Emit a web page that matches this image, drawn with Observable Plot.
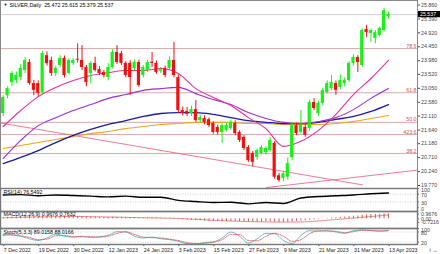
<!DOCTYPE html>
<html><head><meta charset="utf-8">
<script src="https://cdn.jsdelivr.net/npm/d3@7"></script>
<script src="https://cdn.jsdelivr.net/npm/@observablehq/plot@0.6"></script>
<style>
html,body{margin:0;padding:0;background:#fff;}
#c{width:440px;line-height:0;}
#c svg{display:block;overflow:visible;}
</style>
</head><body><div id="c"></div>
<script>
const symbol = "SILVER,Daily";
const dates = ["2022-12-07","2022-12-08","2022-12-09","2022-12-12","2022-12-13","2022-12-14","2022-12-15","2022-12-16","2022-12-19","2022-12-20","2022-12-21","2022-12-22","2022-12-23","2022-12-27","2022-12-28","2022-12-29","2022-12-30",
"2023-01-03","2023-01-04","2023-01-05","2023-01-06","2023-01-09","2023-01-10","2023-01-11","2023-01-12","2023-01-13","2023-01-16","2023-01-17","2023-01-18","2023-01-19","2023-01-20","2023-01-23","2023-01-24","2023-01-25","2023-01-26","2023-01-27","2023-01-30","2023-01-31",
"2023-02-01","2023-02-02","2023-02-03","2023-02-06","2023-02-07","2023-02-08","2023-02-09","2023-02-10","2023-02-13","2023-02-14","2023-02-15","2023-02-16","2023-02-17","2023-02-20","2023-02-21","2023-02-22","2023-02-23","2023-02-24","2023-02-27","2023-02-28",
"2023-03-01","2023-03-02","2023-03-03","2023-03-06","2023-03-07","2023-03-08","2023-03-09","2023-03-10","2023-03-13","2023-03-14","2023-03-15","2023-03-16","2023-03-17","2023-03-20","2023-03-21","2023-03-22","2023-03-23","2023-03-24","2023-03-27","2023-03-28","2023-03-29","2023-03-30","2023-03-31",
"2023-04-03","2023-04-04","2023-04-05","2023-04-06","2023-04-10","2023-04-11","2023-04-12","2023-04-13"];

const open = [22.20,22.80,23.24,23.31,23.41,23.65,23.92,23.21,23.21,22.91,24.15,23.99,23.55,23.82,24.06,23.55,23.89,
24.03,23.99,23.75,23.55,23.89,23.68,23.58,23.41,23.75,24.26,24.22,23.89,23.89,23.72,23.92,23.48,23.65,23.93,23.89,23.62,23.72,
23.72,23.99,23.41,22.30,22.27,22.20,22.33,21.96,22.03,21.99,21.86,21.73,21.56,21.63,21.69,21.86,21.56,21.39,21.05,20.85,
20.72,20.85,20.88,20.95,21.19,20.10,20.01,20.05,20.71,21.79,21.56,21.73,21.69,22.57,22.20,22.54,22.91,23.04,23.21,23.08,23.21,23.31,23.89,
24.09,23.82,25.03,24.90,24.73,24.83,25.00,25.472];
const high = [22.80,23.10,23.62,23.60,23.85,24.08,24.02,23.32,23.30,24.30,24.28,24.10,23.80,24.15,24.14,24.05,24.05,
24.55,24.49,23.82,23.95,24.10,23.78,23.66,23.88,24.35,24.49,24.30,23.95,23.98,24.00,24.00,23.82,24.00,24.26,23.97,23.75,23.80,
24.10,24.60,23.50,22.42,22.40,22.45,22.64,22.15,22.12,22.05,21.92,21.80,21.85,21.88,21.98,21.95,21.62,21.45,21.12,20.92,
21.00,21.12,21.08,21.38,21.25,20.18,20.25,20.70,21.90,21.88,22.30,21.82,22.65,22.70,22.62,23.05,23.30,23.48,23.30,23.50,23.40,23.95,24.18,
24.15,25.05,25.17,25.05,25.00,25.12,25.75,25.615];
const low = [22.10,22.70,23.10,23.20,23.30,23.55,23.15,22.80,22.75,22.82,23.80,23.45,23.45,23.74,23.40,23.50,23.82,
23.90,23.65,23.10,23.20,23.60,23.48,23.40,23.30,23.70,23.85,23.82,23.40,22.81,23.65,23.08,23.40,23.58,23.75,23.52,23.55,23.40,
23.66,23.40,22.20,22.12,22.10,22.10,21.90,21.88,21.82,21.72,21.50,21.48,21.19,21.58,21.64,21.45,21.22,20.95,20.55,20.40,
20.62,20.80,20.80,20.90,19.98,19.88,19.90,19.95,20.60,21.45,21.50,21.40,21.60,22.30,22.10,22.45,22.85,22.98,22.81,23.00,23.10,23.25,23.82,
23.58,23.75,24.76,24.60,24.55,24.78,24.95,25.379];
const close = [22.74,23.04,23.55,23.48,23.72,23.99,23.21,22.98,22.88,24.22,23.88,23.55,23.72,24.06,23.48,23.99,23.99,
24.00,23.75,23.24,23.89,23.65,23.55,23.48,23.75,24.26,23.92,23.89,23.48,23.41,23.92,23.14,23.75,23.92,23.89,23.58,23.68,23.48,
23.99,23.48,22.30,22.20,22.17,22.33,21.96,22.06,21.90,21.79,21.56,21.56,21.79,21.79,21.90,21.52,21.29,21.02,20.61,20.55,
20.95,21.05,21.02,21.29,20.05,19.94,20.17,20.51,21.79,21.52,21.79,21.46,22.57,22.37,22.54,22.98,23.21,23.25,22.98,23.31,23.31,23.89,24.09,
23.92,25.00,24.93,25.00,24.93,25.07,25.67,25.537];

// moving averages sampled every 4 bars
const maIdx = [0,4,8,12,16,20,24,28,32,36,40,44,48,52,56,60,64,68,72,76,80,84,88];
const maPink   = [21.76,22.30,22.77,23.08,23.31,23.48,23.58,23.65,23.65,23.72,23.55,23.04,22.74,22.47,22.06,21.69,21.09,21.26,21.63,22.17,22.84,23.38,23.99];
const maPurple = [20.68,21.29,21.79,22.06,22.30,22.50,22.71,22.84,22.98,23.04,23.08,22.87,22.67,22.50,22.23,22.03,21.90,21.86,21.93,22.06,22.33,22.71,23.04];
const maBlue   = [20.51,20.72,20.95,21.22,21.46,21.66,21.83,21.96,22.10,22.20,22.23,22.23,22.17,22.06,21.96,21.90,21.86,21.86,21.90,22.00,22.10,22.27,22.50];
const maOrange = [21.02,21.12,21.22,21.32,21.42,21.52,21.59,21.69,21.76,21.83,21.86,21.90,21.90,21.90,21.86,21.86,21.83,21.83,21.83,21.86,21.93,22.03,22.13];

// fibonacci levels
const fibLabels = ["78.6","61.8","50.0","423.6","38.2"];
const fibPrices = [24.39,22.90,21.90,21.49,20.85];

// trend lines (bar index, price)
const trendDownIdx = [-0.62,82.1], trendDownPrice = [21.88,19.79];
const trendUpIdx = [60.1,94.63], trendUpPrice = [19.70,20.29];

const priceTicks = [25.860,25.390,24.920,24.450,23.980,23.520,23.050,22.580,22.110,21.640,21.180,20.710,20.240,19.770];

// RSI(14)
const rsiVal = [66,68,62,66,63,60,56,60,54,54,38,32,27,28,20,27,22,50,58,62,66,72,76.5];
const rsiLast = "76.5492";
const rsiLevels = [100,70,30,0];

// MACD(12,26,9)
const macd = [0.25,0.30,0.35,0.38,0.42,0.48,0.45,0.40,0.35,0.45,0.50,0.48,0.47,0.48,0.44,0.44,0.44,
0.45,0.43,0.36,0.35,0.33,0.30,0.27,0.27,0.31,0.31,0.31,0.27,0.23,0.22,0.16,0.15,0.16,0.16,0.14,0.12,0.09,
0.10,0.06,-0.07,-0.17,-0.25,-0.30,-0.36,-0.40,-0.44,-0.48,-0.53,-0.56,-0.56,-0.55,-0.53,-0.54,-0.57,-0.61,-0.63,-0.67,
-0.67,-0.66,-0.64,-0.61,-0.68,-0.72,-0.72,-0.70,-0.60,-0.53,-0.45,-0.40,-0.29,-0.21,-0.12,-0.02,0.08,0.17,0.22,0.28,0.33,0.42,0.50,
0.55,0.70,0.79,0.85,0.87,0.90,0.97,0.9676];
const macdSignal = [0.18,0.30,0.38,0.43,0.46,0.43,0.35,0.29,0.22,0.16,0.07,-0.10,-0.30,-0.45,-0.55,-0.62,-0.66,-0.62,-0.43,-0.15,0.15,0.45,0.7632];
const macdTicks = [0.9676,0,-0.7216];
const macdTickLabels = ["0.9676","0.00","-0.7216"];
const macdText = "MACD(12,26,9) 0.9676 0.7632";

// Stochastic(5,3,3)
const stIdx = [0,2,4,6,8,10,12,14,16,18,20,22,24,26,28,30,32,34,36,38,40,42,44,46,48,50,52,54,56,58,60,62,64,66,68,70,72,74,76,78,80,82,84,86,88];
const stK = [65,62,55,40,30,45,68,55,50,55,48,52,60,82,80,55,45,50,40,35,25,12,10,18,22,45,80,55,15,40,72,70,30,12,60,88,85,88,80,72,88,92,88,85,89];
const stD = [60,64,58,48,35,38,58,60,52,52,52,50,55,72,82,65,50,47,45,38,30,18,12,14,20,35,65,65,30,28,55,72,55,25,35,70,87,86,84,76,82,90,89,86,88];
const stText = "Stoch(5,3,3) 89.0158 88.0166";
const stLevels = [80,20];
const stTicks = [100,80,20];

const dateTicks = ["7 Dec 2022","19 Dec 2022","30 Dec 2022","12 Jan 2023","24 Jan 2023","3 Feb 2023","15 Feb 2023","27 Feb 2023","9 Mar 2023","21 Mar 2023","31 Mar 2023","13 Apr 2023"];
const dateTickDates = ["2022-12-07","2022-12-19","2022-12-30","2023-01-12","2023-01-24","2023-02-03","2023-02-15","2023-02-27","2023-03-09","2023-03-21","2023-03-31","2023-04-13"];

// ---------- build ----------
const W = 440, MR = 23;
const XD = [-0.62, 94.63];
const FONT = "Liberation Sans, Arial, sans-serif";
const FS = "5.3px";
const GREEN = "#18f018", RED = "#f01010";
const bars = dates.map((d,i)=>({i, d, o:open[i], h:high[i], l:low[i], c:close[i], m:macd[i]}));
const up = bars.filter(b=>b.c>=b.o), dn = bars.filter(b=>b.c<b.o);
const ser = (idx, vals) => idx.map((i,k)=>({i, v:vals[k]}));
const fibs = fibPrices.map((p,k)=>({p, label:fibLabels[k]}));
const last = bars[bars.length-1];
const title = `${symbol}  ${last.o.toFixed(3)} ${last.h.toFixed(3)} ${last.l.toFixed(3)} ${last.c.toFixed(3)}`;
const style = {fontFamily: FONT, fontSize: FS, background: "transparent", overflow: "visible"};
const AXC = "#444";
const tickMarks = (vals) => Plot.ruleY(vals, {y: d=>d, x1: XD[1], x2: XD[1]+0.45, stroke: AXC, strokeWidth: 0.8});

const main = Plot.plot({
  width: W, height: 188, marginLeft: 0, marginRight: MR, marginTop: 0, marginBottom: 0,
  x: {domain: XD, axis: null},
  y: {domain: [19.669, 26.012], axis: null},
  style,
  marks: [
    Plot.ruleY([last.c], {stroke: "#c4c4c4", strokeWidth: 0.8}),
    Plot.ruleY(fibs, {y: "p", stroke: "#cf9494", strokeWidth: 0.8}),
    Plot.text(fibs, {x: XD[1], y: "p", text: "label", textAnchor: "end", dx: -1, dy: -2.6, fill: "#d45050"}),
    Plot.line(ser(trendDownIdx, trendDownPrice), {x: "i", y: "v", stroke: "#e85a78", strokeWidth: 0.8, clip: true}),
    Plot.line(ser(trendUpIdx, trendUpPrice), {x: "i", y: "v", stroke: "#e85a78", strokeWidth: 0.8, clip: true}),
    Plot.line(ser(maIdx, maOrange), {x: "i", y: "v", stroke: "#f4a020", strokeWidth: 1.1, curve: "monotone-x"}),
    Plot.line(ser(maIdx, maBlue), {x: "i", y: "v", stroke: "#1a1aa8", strokeWidth: 1.3, curve: "monotone-x"}),
    Plot.line(ser(maIdx, maPurple), {x: "i", y: "v", stroke: "#9a2ed6", strokeWidth: 1.1, curve: "monotone-x"}),
    Plot.line(ser(maIdx, maPink), {x: "i", y: "v", stroke: "#e8309c", strokeWidth: 1.1, curve: "monotone-x"}),
    Plot.ruleX(up, {x: "i", y1: "l", y2: "h", stroke: GREEN, strokeWidth: 1}),
    Plot.ruleX(dn, {x: "i", y1: "l", y2: "h", stroke: RED, strokeWidth: 1}),
    Plot.rect(up, {x1: d=>d.i-0.36, x2: d=>d.i+0.36, y1: "o", y2: "c", fill: GREEN}),
    Plot.rect(dn, {x1: d=>d.i-0.36, x2: d=>d.i+0.36, y1: "o", y2: "c", fill: RED}),
    Plot.axisY({anchor: "right", ticks: priceTicks, tickFormat: d=>d.toFixed(3), tickSize: 2, tickPadding: 1.5, fill: AXC, stroke: AXC}),
    Plot.rect([last], {x1: XD[1]+0.12, x2: XD[1]+5.3, y1: d=>d.c-0.105, y2: d=>d.c+0.105, fill: "#000"}),
    Plot.text([last], {x: XD[1], y: "c", text: d=>d.c.toFixed(3), textAnchor: "start", dx: 2.5, fill: "#fff"}),
    Plot.text([title], {frameAnchor: "top-left", dx: 9, dy: 2.3, lineAnchor: "top", textAnchor: "start", fill: "#000"}),
    Plot.text(["▼"], {frameAnchor: "top-left", dx: 3, dy: 2.6, lineAnchor: "top", textAnchor: "start", fill: "#000", fontSize: 4}),
    Plot.frame({stroke: "#888", strokeWidth: 1})
  ]
});

const rsi = Plot.plot({
  width: W, height: 23, marginLeft: 0, marginRight: MR, marginTop: 0, marginBottom: 0,
  x: {domain: XD, axis: null},
  y: {domain: [-19.7, 99.5], axis: null},
  style,
  marks: [
    Plot.ruleY([70,30], {stroke: "#b8b8b8", strokeDasharray: "1,1.5", strokeWidth: 0.7}),
    Plot.line(ser(maIdx, rsiVal), {x: "i", y: "v", stroke: "#000", strokeWidth: 1.4, curve: "monotone-x"}),
    Plot.text([`RSI(14) ${rsiLast}`], {frameAnchor: "top-left", dx: 3, dy: 2, lineAnchor: "top", textAnchor: "start", fill: "#000"}),
    Plot.text(rsiLevels, {x: XD[1], y: d=>d, text: d=>String(d), textAnchor: "start", dx: 3.5, dy: 1.5, fill: AXC}),
    tickMarks(rsiLevels),
    Plot.frame({stroke: "#777", strokeWidth: 1.4})
  ]
});

const macdP = Plot.plot({
  width: W, height: 17, marginLeft: 0, marginRight: MR, marginTop: 0, marginBottom: 0,
  x: {domain: XD, axis: null},
  y: {domain: [-1.94, 1.46], axis: null},
  style,
  marks: [
    Plot.ruleX(bars, {x: "i", y1: 0, y2: "m", stroke: "#c03838", strokeWidth: 0.8}),
    Plot.line(ser(maIdx, macdSignal), {x: "i", y: "v", stroke: "#e03030", strokeWidth: 0.7, strokeDasharray: "1,1", curve: "monotone-x"}),
    Plot.text([macdText], {frameAnchor: "top-left", dx: 3, dy: 1, lineAnchor: "top", textAnchor: "start", fill: "#000"}),
    Plot.text(macdTicks, {x: XD[1], y: d=>d, text: (d,k)=>macdTickLabels[k], textAnchor: "start", dx: 3.5, fill: AXC}),
    tickMarks(macdTicks),
    Plot.frame({stroke: "#777", strokeWidth: 1.4})
  ]
});

const stP = Plot.plot({
  width: W, height: 26, marginLeft: 0, marginRight: MR, marginTop: 0, marginBottom: 10,
  x: {domain: XD, axis: null},
  y: {domain: [6.5, 100.6], axis: null},
  style,
  marks: [
    Plot.ruleY(stLevels, {stroke: "#c0c0c0", strokeDasharray: "1,1.5", strokeWidth: 0.7}),
    Plot.line(ser(stIdx, stK), {x: "i", y: "v", stroke: "#4aa8b8", strokeWidth: 0.8, curve: "monotone-x"}),
    Plot.line(ser(stIdx, stD), {x: "i", y: "v", stroke: "#e04a4a", strokeWidth: 0.8, strokeDasharray: "1.5,1.2", curve: "monotone-x"}),
    Plot.text([stText], {frameAnchor: "top-left", dx: 3, dy: 2, lineAnchor: "top", textAnchor: "start", fill: "#000"}),
    Plot.text(stTicks, {x: XD[1], y: d=>d, text: d=>String(d), textAnchor: "start", dx: 3.5, dy: 1.5, fill: AXC}),
    tickMarks(stTicks),
    Plot.axisX({ticks: dateTickDates.map(d=>dates.indexOf(d)), tickFormat: i=>dateTicks[dateTickDates.indexOf(dates[i])], textAnchor: "start", tickSize: 2, tickPadding: 1.5, dx: 0.5, fill: "#222", stroke: AXC}),
    Plot.frame({stroke: "#777", strokeWidth: 1.4})
  ]
});

const c = document.getElementById("c");
[main, rsi, macdP, stP].forEach(p => c.appendChild(p));
</script>
</body></html>
